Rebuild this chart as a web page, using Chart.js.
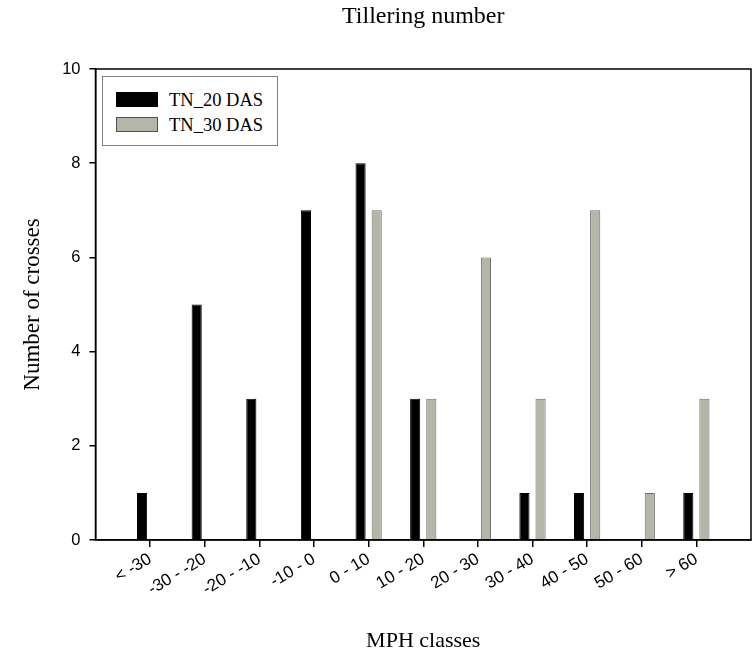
<!DOCTYPE html>
<html>
<head>
<meta charset="utf-8">
<title>Tillering number</title>
<script src="https://cdn.jsdelivr.net/npm/chart.js@4/dist/chart.umd.min.js"></script>
<style>
    body { margin: 0; background: #fff; }
    #wrap { position: relative; width: 754px; height: 655px; }
    #legend {
        position: absolute; left: 102px; top: 76px; width: 176px; height: 70px;
        border: 1px solid #808080; box-sizing: border-box; background: #fff;
        font-family: "Liberation Serif", "Times New Roman", serif; font-size: 18.5px; color: #000;
    }
    #legend .item { position: absolute; left: 13px; height: 16px; line-height: 16px; white-space: nowrap; }
    #legend .swatch { display: inline-block; width: 40px; height: 13px; border: 1px solid #000; vertical-align: top; margin-right: 11px; }
</style>
</head>
<body>
<div id="wrap">
    <canvas id="chart" width="754" height="655"></canvas>
    <div id="legend"></div>
</div>
<script>
// MPH class categories
const classes = ['< -30', '-30 - -20', '-20 - -10', '-10 - 0', '0 - 10', '10 - 20', '20 - 30', '30 - 40', '40 - 50', '50 - 60', '> 60'];
// number of crosses per class
const tn20 = [1, 5, 3, 7, 8, 3, 0, 1, 1, 0, 1];
const tn30 = [0, 0, 0, 0, 7, 3, 6, 3, 7, 1, 3];
const yTicks = [0, 2, 4, 6, 8, 10];

const serif = '"Liberation Serif", "Times New Roman", serif';
const sans = '"Liberation Sans", Arial, sans-serif';

function toPoints(values) {
    return values.map(function(v, i) { return { x: i + 1, y: v }; });
}

// plot frame (top and right edges too)
const frame = {
    id: 'frame',
    afterDatasetsDraw(chart) {
        const a = chart.chartArea;
        const ctx = chart.ctx;
        ctx.save();
        ctx.strokeStyle = '#000';
        ctx.lineWidth = 1.5;
        ctx.strokeRect(a.left, a.top, a.right - a.left, a.bottom - a.top);
        ctx.restore();
    }
};

const chart = new Chart(document.getElementById('chart'), {
    type: 'bar',
    data: {
        datasets: [{
            label: 'TN_20 DAS',
            data: toPoints(tn20),
            backgroundColor: '#000000',
            borderColor: '#000000',
            borderWidth: 1
        }, {
            label: 'TN_30 DAS',
            data: toPoints(tn30),
            backgroundColor: '#b5b5a9',
            borderColor: '#6e6e6e',
            borderWidth: 1
        }]
    },
    options: {
        responsive: false,
        animation: false,
        categoryPercentage: 0.59,
        barPercentage: 0.63,
        layout: { padding: { left: 0, right: 3, top: 0, bottom: 0 } },
        plugins: {
            legend: { display: false },
            tooltip: { enabled: false },
            title: {
                display: true,
                text: 'Tillering number',
                fullSize: false,
                color: '#000',
                font: { family: serif, size: 24, weight: 'normal' },
                padding: { top: 2, bottom: 38.2 }
            }
        },
        scales: {
            x: {
                type: 'linear',
                min: 0,
                max: 12,
                offset: false,
                afterBuildTicks: function(scale) {
                    scale.ticks = classes.map(function(c, i) { return { value: i + 1 }; });
                },
                afterFit: function(scale) { scale.height = 115; },
                ticks: {
                    autoSkip: false,
                    minRotation: 31,
                    maxRotation: 31,
                    padding: 2,
                    color: '#000',
                    font: { family: sans, size: 17 },
                    callback: function(value) { return classes[value - 1]; }
                },
                grid: { offset: false, drawOnChartArea: false, drawTicks: true, tickLength: 7, color: '#000', lineWidth: 1.5 },
                border: { color: '#000', width: 1.5 },
                title: {
                    display: true,
                    text: 'MPH classes',
                    color: '#000',
                    font: { family: serif, size: 22 },
                    padding: { top: 0, bottom: 1 }
                }
            },
            y: {
                min: 0,
                max: 10,
                afterBuildTicks: function(scale) {
                    scale.ticks = yTicks.map(function(v) { return { value: v }; });
                },
                afterFit: function(scale) { scale.width = 95.5; },
                ticks: {
                    padding: 9,
                    color: '#000',
                    font: { family: sans, size: 16.5 }
                },
                grid: { drawOnChartArea: false, drawTicks: true, tickLength: 6, color: '#000', lineWidth: 1.5 },
                border: { color: '#000', width: 1.5 },
                title: {
                    display: true,
                    text: 'Number of crosses',
                    color: '#000',
                    font: { family: serif, size: 23 },
                    padding: { top: 19, bottom: 0 }
                }
            }
        }
    },
    plugins: [frame]
});

// legend box drawn in HTML from the chart's datasets
const legendEl = document.getElementById('legend');
chart.data.datasets.forEach(function(ds, i) {
    const item = document.createElement('div');
    item.className = 'item';
    item.style.top = (15 + i * 24.5) + 'px';
    const sw = document.createElement('span');
    sw.className = 'swatch';
    sw.style.background = ds.backgroundColor;
    sw.style.borderColor = i === 0 ? '#000' : '#505050';
    item.appendChild(sw);
    item.appendChild(document.createTextNode(ds.label));
    legendEl.appendChild(item);
});
</script>
</body>
</html>
